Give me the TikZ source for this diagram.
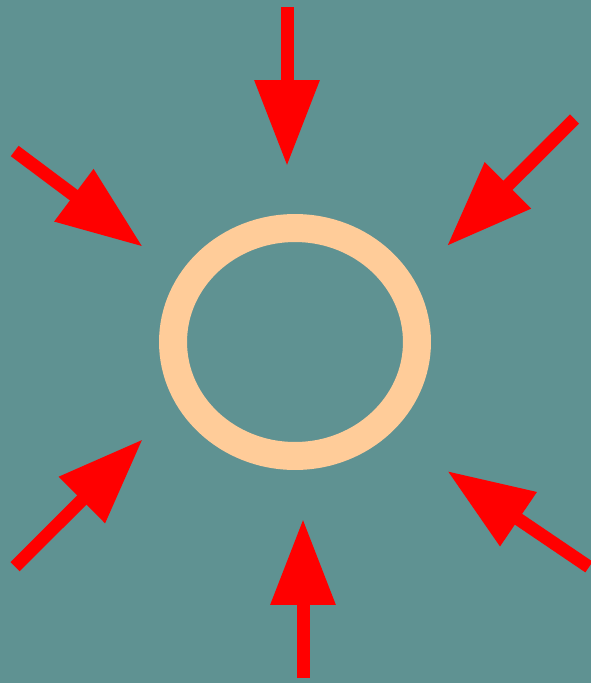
\documentclass[tikz,border=0pt]{standalone}
\usetikzlibrary{arrows.meta,shapes.geometric}
\definecolor{bgteal}{RGB}{95,146,146}
\definecolor{ringpeach}{RGB}{255,204,153}
\begin{document}
\begin{tikzpicture}[x=0.02cm, y=-0.02cm,
    pa/.style={draw=red, line width=0.26cm, -{Triangle[length=1.72cm, width=1.24cm, fill=red]}},
    rg/.style={ellipse, draw=ringpeach, line width=0.56cm, inner sep=0pt,
               minimum width=4.88cm, minimum height=4.56cm}]
  \useasboundingbox (0,0) rectangle (591,683);
  \fill[bgteal] (0,0) rectangle (591,683);
  \node[rg] (ring) at (295,342) {};
  % tails and tips of the arrows
  \coordinate (nT) at (287,7);     \coordinate (nH) at (287,166);
  \coordinate (neT) at (574.5,119); \coordinate (neH) at (447,246);
  \coordinate (nwT) at (14.7,151);  \coordinate (nwH) at (142.7,246.7);
  \coordinate (swT) at (15,566.7);  \coordinate (swH) at (142.7,439.3);
  \coordinate (sT) at (303,678);    \coordinate (sH) at (303,519);
  \coordinate (seT) at (589,567);   \coordinate (seH) at (447.3,471);
  \draw[pa] (nT) -- (nH);
  \draw[pa] (neT) -- (neH);
  \draw[pa] (nwT) -- (nwH);
  \draw[pa] (swT) -- (swH);
  \draw[pa] (sT) -- (sH);
  \draw[pa] (seT) -- (seH);
\end{tikzpicture}
\end{document}
